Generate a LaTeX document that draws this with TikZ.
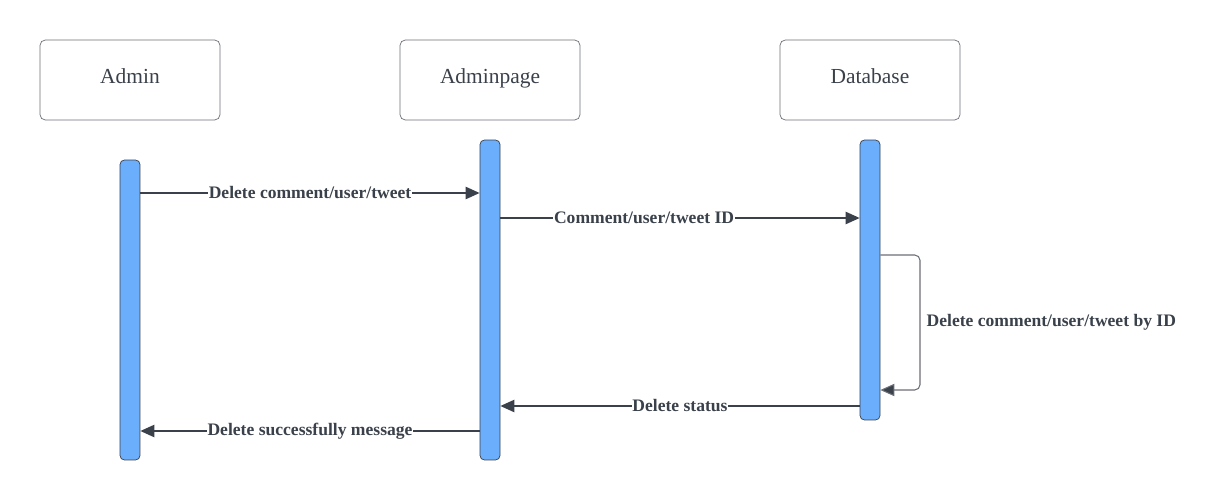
\documentclass[tikz,border=0pt]{standalone}
\usepackage{fontspec}
\setmainfont{Liberation Serif}
\usepackage{tikz}
\usetikzlibrary{arrows.meta,positioning}
\definecolor{inkgray}{HTML}{3A414A}
\definecolor{boxgray}{HTML}{6B6F76}
\definecolor{barblue}{HTML}{6AAEFC}
\tikzset{
  actor/.style={draw=boxgray,fill=white,rounded corners=3pt,minimum width=3.6cm,minimum height=1.6cm,text height=8pt,text depth=3.5pt,font=\fontsize{12.2}{14}\selectfont,text=inkgray},
  lifebar/.style={draw=inkgray,fill=barblue,rounded corners=2.5pt,minimum width=0.4cm,inner sep=0pt},
  msg/.style={draw=inkgray,line width=0.9pt,-{Triangle[length=8pt,width=7pt]}},
  msglabel/.style={fill=white,inner sep=0.5pt,font=\bfseries\fontsize{10}{12}\selectfont,text=inkgray}
}
\begin{document}
\begin{tikzpicture}[x=0.02cm,y=-0.02cm]
 \useasboundingbox (0,0) rectangle (1220,500);
 % actors
 \node[actor] (admin) at (130,80){Admin};
 \node[actor] (page) at (490,80){Adminpage};
 \node[actor] (db) at (870,80){Database};
 % activation bars
 \node[lifebar,minimum height=6cm] (adminbar) at (130,310){};
 \node[lifebar,minimum height=6.4cm] (pagebar) at (490,300){};
 \node[lifebar,minimum height=5.6cm] (dbbar) at (870,280){};
 % messages
 \draw[msg] (adminbar.east |- 0,193) -- node[msglabel]{Delete comment/user/tweet} (pagebar.west |- 0,193);
 \draw[msg] (pagebar.east |- 0,218) -- node[msglabel,pos=0.4]{Comment/user/tweet ID} (dbbar.west |- 0,218);
 \draw[boxgray,line width=0.6pt,rounded corners=3pt,-{Triangle[length=8pt,width=7pt,fill=inkgray]}] (dbbar.east |- 0,255) -- (920,255) -- node[right=3pt,msglabel,fill=none]{Delete comment/user/tweet by ID} (920,390) -- (dbbar.east |- 0,390);
 \draw[msg] (dbbar.west |- 0,406) -- node[msglabel]{Delete status} (pagebar.east |- 0,406);
 \draw[msg] (pagebar.west |- 0,431) -- node[msglabel]{Delete successfully message} (adminbar.east |- 0,431);
\end{tikzpicture}
\end{document}
